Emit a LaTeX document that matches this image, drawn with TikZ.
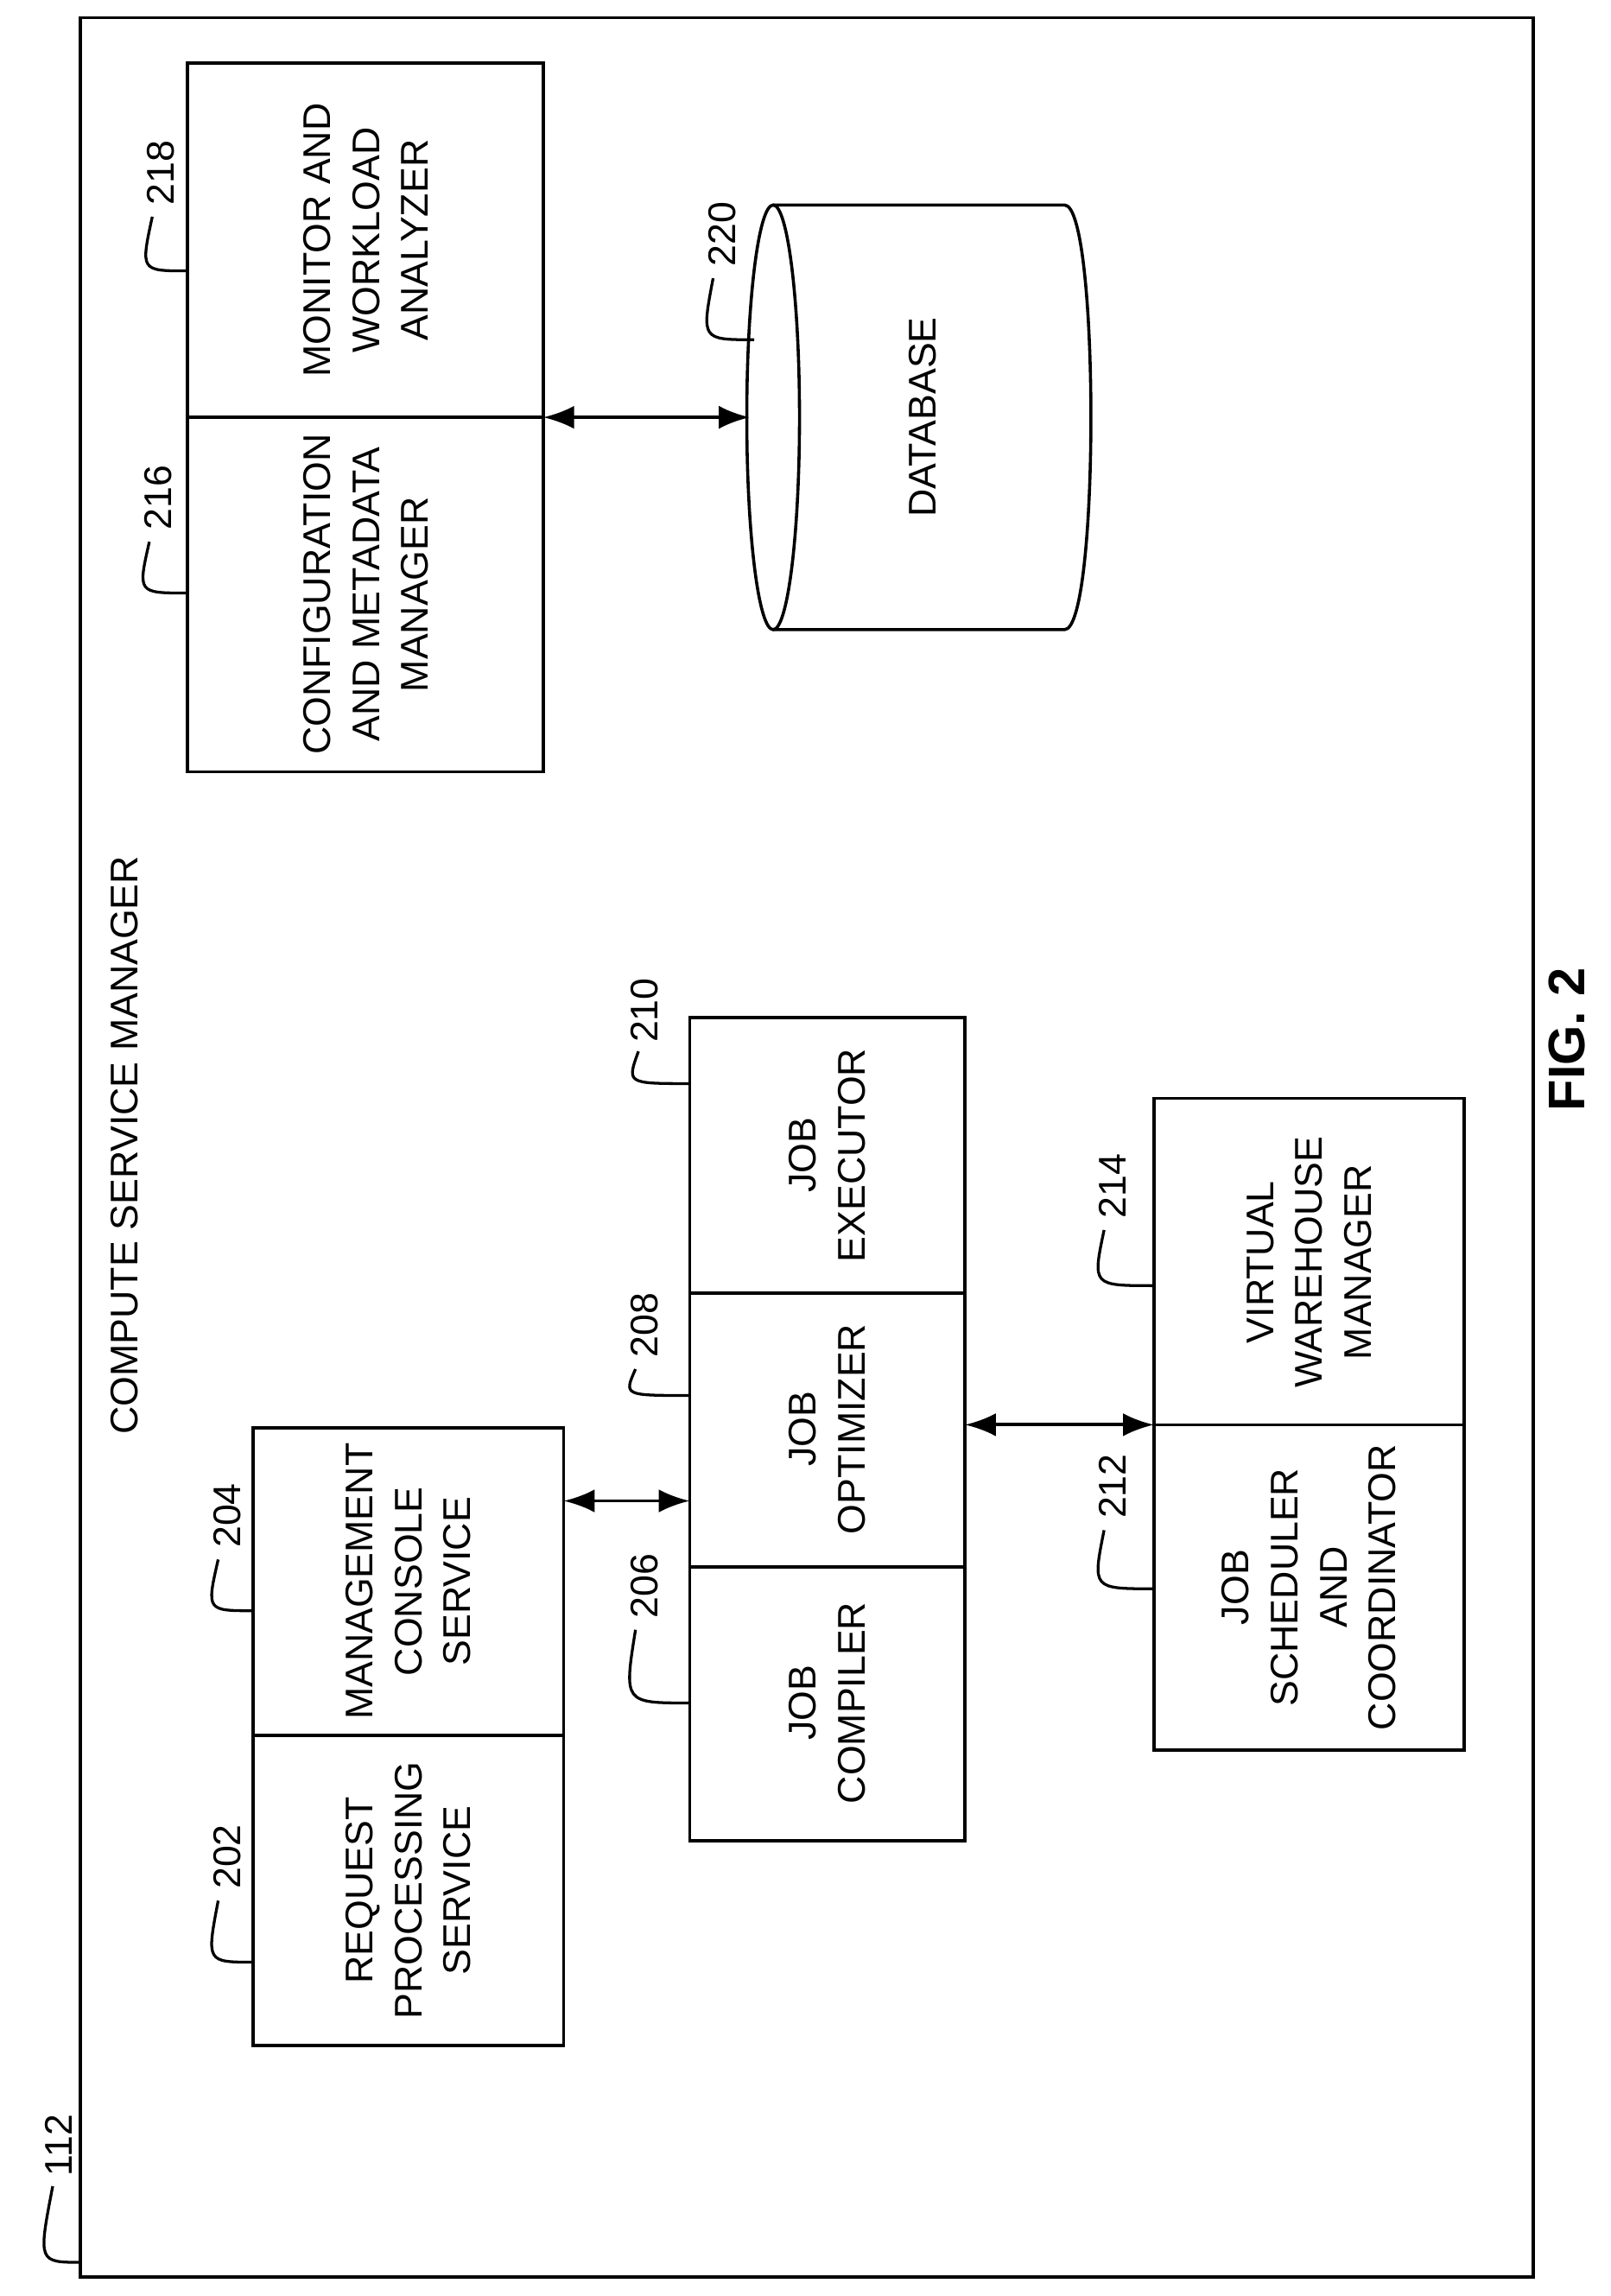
\documentclass[tikz,border=0pt]{standalone}
\usepackage{fontspec}
\setmainfont{Liberation Sans}
\usetikzlibrary{arrows.meta}
\begin{document}
\begin{tikzpicture}[x=0.02cm,y=-0.02cm,
  box/.style={draw,line width=1.2pt},
  txt/.style={rotate=90,align=center,font=\fontsize{15}{19}\selectfont},
  num/.style={rotate=90,font=\fontsize{15}{18}\selectfont},
  lead/.style={line width=1.1pt},
  arr/.style={line width=1.3pt,{Latex[length=12pt,width=9pt]}-{Latex[length=12pt,width=9pt]}}]
\useasboundingbox (0,0) rectangle (1100,1568);
\draw[box] (55,12) rectangle (1047,1555);
\node[txt] (csm) at (85,782) {COMPUTE SERVICE MANAGER};
\node[txt,font=\bfseries\fontsize{20}{24}\selectfont] (fig) at (1070,710) {FIG. 2};
% boxes
\draw[box] (173,975) rectangle (385,1397); \draw[box] (173,1185)--(385,1185);
\node[txt] (b202) at (279,1291) {REQUEST\\PROCESSING\\SERVICE};
\node[txt] (b204) at (279,1080) {MANAGEMENT\\CONSOLE\\SERVICE};
\draw[box] (471,695) rectangle (659,1257); \draw[box] (471,883)--(659,883); \draw[box] (471,1070)--(659,1070);
\node[txt] (b206) at (565,1163) {JOB\\COMPILER};
\node[txt] (b208) at (565,976) {JOB\\OPTIMIZER};
\node[txt] (b210) at (565,789) {JOB\\EXECUTOR};
\draw[box] (788,750) rectangle (1000,1195); \draw[box] (788,973)--(1000,973);
\node[txt] (b212) at (894,1084) {JOB\\SCHEDULER\\AND\\COORDINATOR};
\node[txt] (b214) at (894,862) {VIRTUAL\\WAREHOUSE\\MANAGER};
\draw[box] (128,43) rectangle (371,527); \draw[box] (128,285)--(371,285);
\node[txt] (b216) at (250,406) {CONFIGURATION\\AND METADATA\\MANAGER};
\node[txt] (b218) at (250,164) {MONITOR AND\\WORKLOAD\\ANALYZER};
% database
\draw[box] (528,285) ellipse [x radius=18,y radius=145];
\draw[box] (528,140) -- (727,140) .. controls (751,140) and (751,430) .. (727,430) -- (528,430);
\node[txt] (db) at (630,285) {DATABASE};
% arrows
\coordinate (a1) at (385,1025); \coordinate (a2) at (471,1025);
\draw[arr] (a1) -- (a2);
\coordinate (a3) at (659,973); \coordinate (a4) at (788,973);
\draw[arr] (a3) -- (a4);
\coordinate (a5) at (371,285); \coordinate (a6) at (512,285);
\draw[arr] (a5) -- (a6);
% numbers with leaders
\foreach \n/\x/\y/\bx/\by in {202/155/1268/173/1340, 204/155/1035/173/1100, 206/440/1083/471/1163, 208/440/905/471/953, 212/760/1015/788/1085, 214/760/810/788/878, 216/108/340/128/405, 218/110/118/128/185, 220/493/160/515/232}{
  \node[num] (n\n) at (\x,\y) {\n};
  \coordinate (s\n) at (\x-6,\y+30);
  \coordinate (e\n) at (\bx,\by);
  \draw[lead] (s\n) .. controls (\x-14,\by) .. (e\n);
}
\node[num] (n210) at (440,690) {210};
\coordinate (s210) at (436,718); \coordinate (e210) at (471,740);
\draw[lead] (s210) .. controls (428,740) .. (e210);
\node[num] (n112) at (40,1465) {112};
\coordinate (s112) at (36,1493); \coordinate (e112) at (56,1545);
\draw[lead] (s112) .. controls (26,1545) .. (e112);
\end{tikzpicture}
\end{document}
